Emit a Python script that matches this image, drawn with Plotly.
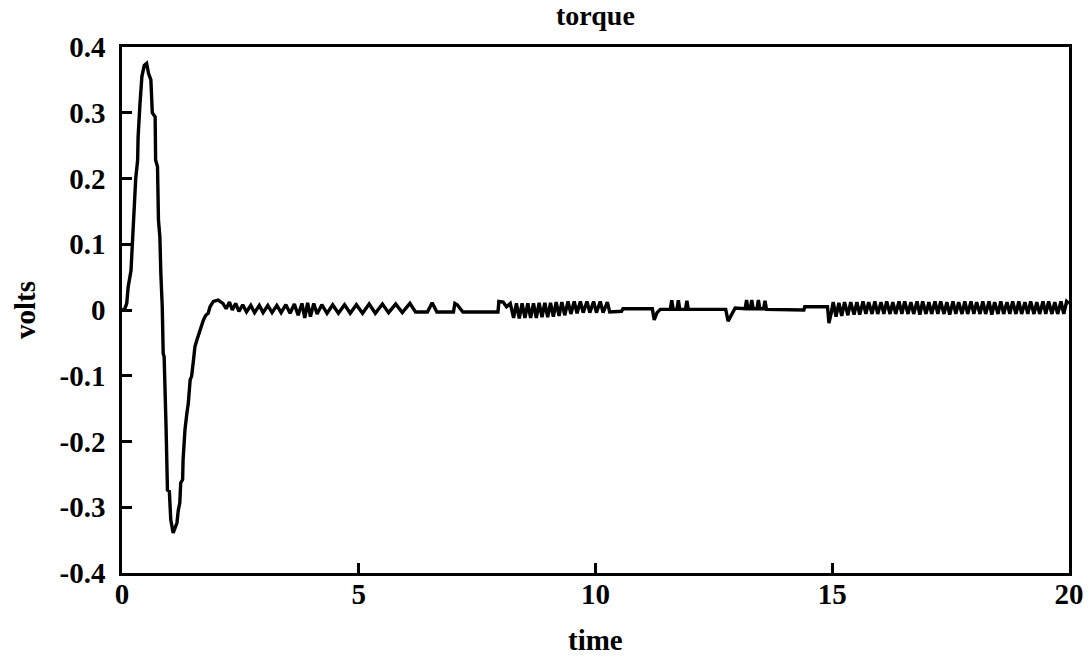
import plotly.graph_objects as go

# ---- data ----
t_start = [0.00, 0.06, 0.10, 0.13, 0.19, 0.22, 0.26, 0.29, 0.33, 0.34, 0.38, 0.42, 0.47, 0.52,
           0.56, 0.61, 0.64, 0.70, 0.71, 0.75, 0.77, 0.80, 0.82, 0.85, 0.87, 0.89, 0.93, 0.96,
           1.00, 1.03, 1.08, 1.12, 1.16, 1.19, 1.22, 1.24, 1.28, 1.29, 1.33, 1.37, 1.40, 1.44,
           1.47, 1.51, 1.54, 1.58, 1.65, 1.72, 1.77, 1.82, 1.86, 1.93, 2.03, 2.13]
v_start = [0.000, 0.002, 0.010, 0.035, 0.060, 0.106, 0.140, 0.200, 0.228, 0.263, 0.314, 0.355,
           0.372, 0.375, 0.360, 0.350, 0.300, 0.294, 0.228, 0.218, 0.137, 0.111, 0.056, 0.005,
           -0.066, -0.071, -0.177, -0.274, -0.276, -0.319, -0.339, -0.331, -0.324, -0.304,
           -0.294, -0.263, -0.258, -0.228, -0.182, -0.157, -0.142, -0.106, -0.101, -0.076,
           -0.056, -0.046, -0.030, -0.015, -0.008, -0.005, 0.005, 0.013, 0.015, 0.010]

t_ripple = [2.20, 2.27, 2.33, 2.40, 2.47, 2.55, 2.63, 2.72, 2.80, 2.90, 2.98, 3.08, 3.17, 3.27,
            3.36, 3.46, 3.55, 3.64, 3.72, 3.80, 3.86, 3.92, 3.98, 4.05, 4.12, 4.22, 4.33, 4.45,
            4.57, 4.70, 4.82, 4.95, 5.08, 5.22, 5.35, 5.50, 5.63, 5.78, 5.92, 6.08, 6.20, 6.45,
            6.55, 6.65, 7.00, 7.03, 7.08, 7.15, 7.20, 7.94]
v_ripple = [0.002, 0.012, 0.000, 0.010, -0.002, 0.008, -0.003, 0.007, -0.004, 0.007, -0.004,
            0.007, -0.004, 0.007, -0.004, 0.008, -0.005, 0.009, -0.008, 0.010, -0.012, 0.011,
            -0.010, 0.010, -0.006, 0.008, -0.005, 0.008, -0.005, 0.008, -0.005, 0.008, -0.005,
            0.009, -0.005, 0.009, -0.004, 0.009, -0.004, 0.010, -0.003, -0.003, 0.011, -0.003,
            -0.003, 0.010, 0.008, 0.002, -0.003, -0.003]

t_burst1 = [7.96, 8.05, 8.12, 8.20, 8.27, 8.33, 8.39, 8.45, 8.51, 8.57, 8.63, 8.69, 8.75, 8.81,
            8.87, 8.93, 8.99, 9.05, 9.11, 9.17, 9.23, 9.29, 9.35, 9.42, 9.48, 9.55, 9.61, 9.68,
            9.74, 9.82, 9.88, 9.96, 10.02, 10.10, 10.16, 10.25, 10.30]
v_burst1 = [0.013, 0.012, 0.005, 0.010, -0.012, 0.010, -0.013, 0.010, -0.012, 0.010, -0.012,
            0.010, -0.012, 0.011, -0.011, 0.011, -0.011, 0.011, -0.010, 0.012, -0.009, 0.012,
            -0.008, 0.013, -0.006, 0.013, -0.005, 0.013, -0.004, 0.013, -0.004, 0.013, -0.004,
            0.013, -0.004, 0.012, -0.003]

t_mid = [10.55, 10.58, 11.20, 11.24, 11.30, 11.37, 11.58, 11.61, 11.64, 11.72, 11.75, 11.78,
         11.90, 11.93, 11.96, 12.75, 12.80, 12.88, 12.95, 13.16, 13.19, 13.22, 13.27, 13.30,
         13.33, 13.41, 13.44, 13.47, 13.55, 13.58, 13.61, 14.40, 14.42, 14.90, 14.93, 14.98]
v_mid = [-0.002, 0.002, 0.002, -0.015, -0.004, 0.001, 0.001, 0.015, 0.001, 0.001, 0.015, 0.001,
         0.001, 0.014, 0.001, 0.001, -0.017, -0.006, 0.003, 0.002, 0.015, 0.002, 0.002, 0.015,
         0.002, 0.002, 0.015, 0.002, 0.002, 0.014, 0.001, 0.000, 0.005, 0.005, -0.020, -0.004]

t_burst2 = [15.02, 15.08, 15.14, 15.20, 15.26, 15.33, 15.39, 15.46, 15.52, 15.58, 15.65, 15.71,
            15.77, 15.84, 15.90, 15.96, 16.03, 16.09, 16.15, 16.22, 16.28, 16.34, 16.41, 16.47,
            16.53, 16.60, 16.66, 16.72, 16.79, 16.85, 16.91, 16.98, 17.04, 17.10, 17.17, 17.23,
            17.29, 17.36, 17.42, 17.48, 17.55, 17.61, 17.67, 17.74, 17.80, 17.86, 17.93, 17.99,
            18.05, 18.12, 18.18, 18.24, 18.31, 18.37, 18.43, 18.50, 18.56, 18.62, 18.69, 18.75,
            18.81, 18.88, 18.94, 19.00, 19.07, 19.13, 19.19, 19.26, 19.32, 19.38, 19.45, 19.51,
            19.57, 19.64, 19.70, 19.76, 19.83, 19.89, 19.95, 20.00]
v_burst2 = [0.012, -0.010, 0.011, -0.009, 0.012, -0.008, 0.012, -0.007, 0.012, -0.007, 0.013,
            -0.006, 0.012, -0.006, 0.013, -0.006, 0.012, -0.006, 0.013, -0.006, 0.012, -0.006,
            0.013, -0.006, 0.013, -0.006, 0.012, -0.006, 0.013, -0.007, 0.013, -0.006, 0.012,
            -0.006, 0.013, -0.006, 0.013, -0.006, 0.012, -0.007, 0.013, -0.006, 0.012, -0.006,
            0.013, -0.006, 0.013, -0.006, 0.012, -0.006, 0.013, -0.006, 0.013, -0.007, 0.012,
            -0.006, 0.013, -0.006, 0.012, -0.006, 0.013, -0.006, 0.013, -0.006, 0.012, -0.006,
            0.013, -0.006, 0.012, -0.006, 0.013, -0.006, 0.013, -0.006, 0.012, -0.006, 0.013,
            -0.006, 0.013, 0.010]

time = t_start + t_ripple + t_burst1 + t_mid + t_burst2
volts = v_start + v_ripple + v_burst1 + v_mid + v_burst2

x_ticks = [0, 5, 10, 15, 20]
x_labels = ["0", "5", "10", "15", "20"]
y_ticks = [-0.4, -0.3, -0.2, -0.1, 0, 0.1, 0.2, 0.3, 0.4]
y_labels = ["-0.4", "-0.3", "-0.2", "-0.1", "0", "0.1", "0.2", "0.3", "0.4"]

FONT = "Liberation Serif"
TICK_FONT = dict(family=FONT, size=29, color="black", weight="bold")
LABEL_FONT = dict(family=FONT, size=29, color="black", weight="bold")

fig = go.Figure()
fig.add_trace(go.Scatter(x=time, y=volts, mode="lines",
                         line=dict(color="black", width=3.4), showlegend=False))

axis_common = dict(showgrid=False, zeroline=False, showline=True, linecolor="black",
                   linewidth=2.5, mirror=True, ticks="inside", tickcolor="black",
                   tickwidth=2.5, ticklen=10, tickfont=TICK_FONT, automargin=False)

fig.update_xaxes(range=[0, 20], tickvals=x_ticks, ticktext=x_labels,
                 ticklabelstandoff=-7, **axis_common)
fig.update_yaxes(range=[-0.4, 0.4], tickvals=y_ticks, ticktext=y_labels,
                 ticklabelstandoff=8, **axis_common)

fig.add_annotation(text="torque", xref="paper", yref="paper", x=0.5, y=1.0608,
                   showarrow=False, xanchor="center", yanchor="middle",
                   font=dict(family=FONT, size=28, color="black", weight="bold"))
fig.add_annotation(text="time", xref="paper", yref="paper", x=0.5, y=-0.1274,
                   showarrow=False, xanchor="center", yanchor="middle", font=LABEL_FONT)
fig.add_annotation(text="volts", xref="paper", yref="paper", x=-0.1024, y=0.5,
                   showarrow=False, xanchor="center", yanchor="middle", textangle=-90,
                   font=LABEL_FONT)

fig.update_layout(width=1088, height=662, margin=dict(l=122, r=19, t=47, b=89),
                  paper_bgcolor="white", plot_bgcolor="white")

fig.write_html("out.html", config={"displayModeBar": False},
               post_script="document.body.style.margin='0';document.body.style.overflow='hidden';")
